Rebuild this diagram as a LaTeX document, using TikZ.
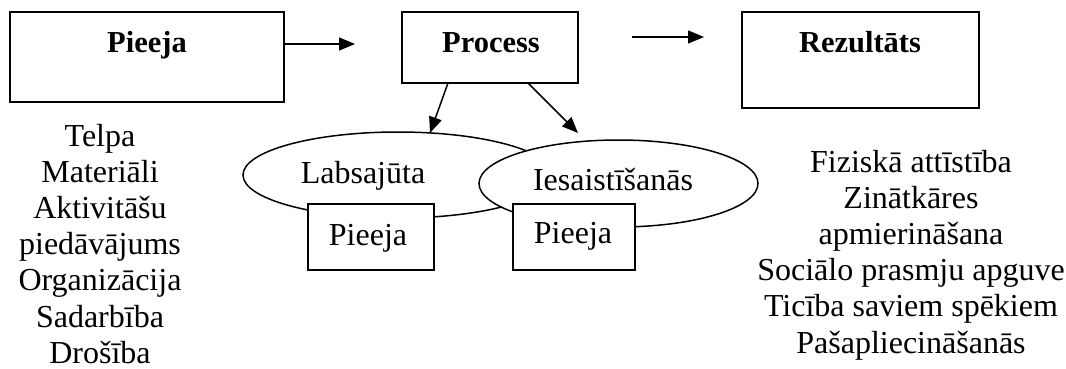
\documentclass[tikz,border=0pt]{standalone}
\usepackage{fontspec}
\setmainfont{Liberation Serif}
\usetikzlibrary{arrows.meta,shapes.geometric}
\tikzset{
  boxshape/.style={draw, line width=1.5pt, rectangle, inner sep=0pt, fill=white},
  ellshape/.style={draw, line width=1.5pt, ellipse, inner sep=0pt, fill=white},
  txt/.style={font=\fontsize{32}{36}\selectfont, anchor=base, inner sep=0pt},
  btxt/.style={txt, font=\fontsize{30.5}{36}\selectfont\bfseries},
  conn/.style={line width=1.5pt, -{Triangle[length=16pt,width=13pt]}}
}
\begin{document}
\begin{tikzpicture}[x=1pt,y=-1pt]
\useasboundingbox (0,0) rectangle (1066,369);
% main boxes
\node[boxshape, minimum width=274pt, minimum height=90pt] (pieeja) at (147,57) {};
\node[boxshape, minimum width=176pt, minimum height=71pt] (process) at (490,47.5) {};
\node[boxshape, minimum width=237pt, minimum height=96pt] (rez) at (860.5,60) {};
\node[btxt] (pieejaT) at (147,53) {Pieeja};
\node[btxt] (processT) at (491,53) {Process};
\node[btxt] (rezT) at (860,53) {Rezultāts};
% arrow coordinates
\coordinate (a1s) at (284,44);
\coordinate (a1e) at (355,44);
\coordinate (a2s) at (632,37);
\coordinate (a2e) at (704,37);
\coordinate (a3s) at (448,83);
\coordinate (a3e) at (430,133);
\coordinate (a4s) at (528,83);
\coordinate (a4e) at (578,133);
\draw[conn] (a1s) -- (a1e);
\draw[conn] (a2s) -- (a2e);
\draw[conn] (a3s) -- (a3e);
\draw[conn] (a4s) -- (a4e);
% ellipses
\node[ellshape, minimum width=310pt, minimum height=86pt] (ell1) at (398,175) {};
\node[txt] (ell1T) at (363,183) {Labsajūta};
\node[ellshape, minimum width=279pt, minimum height=87pt] (ell2) at (618.5,183.5) {};
\node[txt] (ell2T) at (613,190) {Iesaistīšanās};
% small boxes
\node[boxshape, minimum width=126pt, minimum height=66pt] (sb1) at (371,237) {};
\node[txt] (sb1T) at (368,245) {Pieeja};
\node[boxshape, minimum width=122pt, minimum height=66pt] (sb2) at (574,237) {};
\node[txt] (sb2T) at (573,243) {Pieeja};
% left list
\foreach \t [count=\i] in {Telpa,Materiāli,Aktivitāšu,piedāvājums,Organizācija,Sadarbība,Drošība}
  \node[txt] (L\i) at (100,{146+36.2*(\i-1)}) {\t};
% right list
\foreach \t [count=\i] in {Fiziskā attīstība,Zinātkāres,apmierināšana,Sociālo prasmju apguve,Ticība saviem spēkiem,Pašapliecināšanās}
  \node[txt] (R\i) at (911,{172+36.2*(\i-1)}) {\t};
\end{tikzpicture}
\end{document}
